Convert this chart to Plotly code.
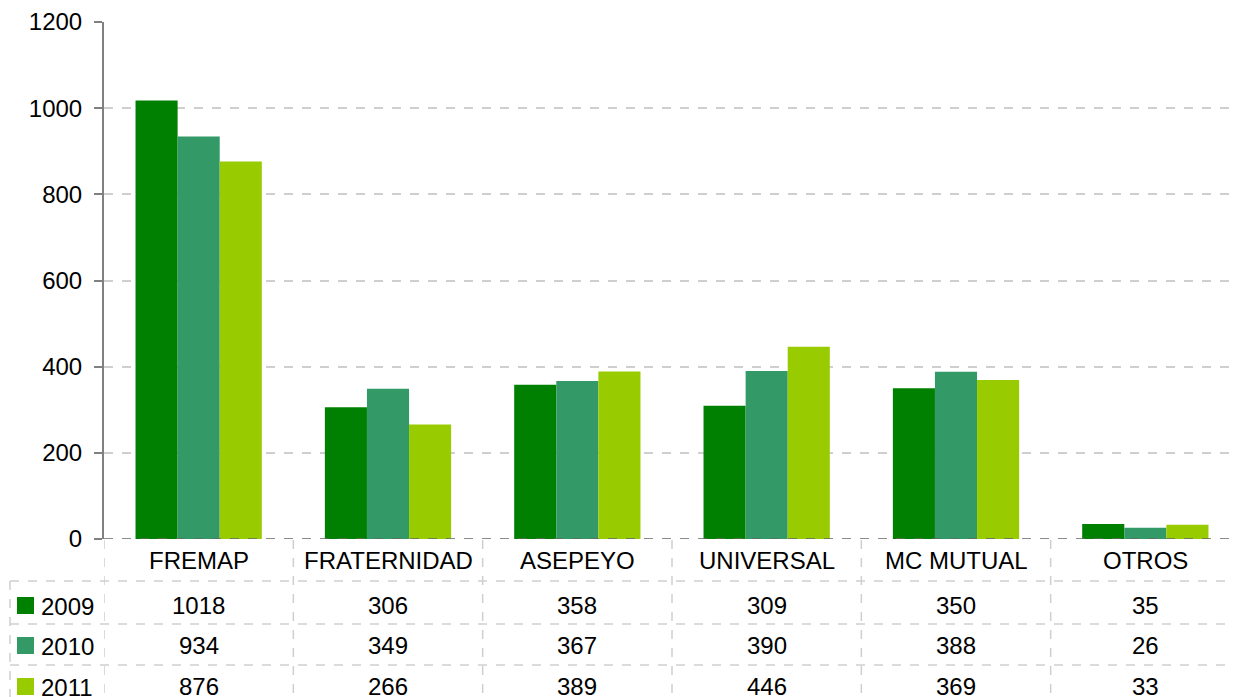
import plotly.graph_objects as go

categories = ["FREMAP", "FRATERNIDAD", "ASEPEYO", "UNIVERSAL", "MC MUTUAL", "OTROS"]
years = ["2009", "2010", "2011"]
v2009 = [1018, 306, 358, 309, 350, 35]
v2010 = [934, 349, 367, 390, 388, 26]
v2011 = [876, 266, 389, 446, 369, 33]
series = [v2009, v2010, v2011]
colors = ["#008000", "#339966", "#99CC00"]
y_ticks = [0, 200, 400, 600, 800, 1000, 1200]

OFF = 8  # page body margin
W, H = 1241 - OFF, 697 - OFF
# screen-space plot area
SX0, SX1, SY0, SY1 = 104, 1240, 22, 539
L, R, T, B = SX0 - OFF, (W + OFF) - SX1, SY0 - OFF, (H + OFF) - SY1
PW = W - L - R
PH = H - T - B
FONT = "Liberation Sans, Arial, sans-serif"
FS = 24

def px_x(px):
    return (px - SX0) / PW

def px_y(py):
    return (SY1 - py) / PH

fig = go.Figure()
for name, vals, c in zip(years, series, colors):
    fig.add_trace(go.Bar(name=name, x=list(range(len(categories))), y=vals,
                         marker=dict(color=c, line=dict(width=0)), showlegend=False))

shapes = []
ann = []
grid_c = "#cfcfcf"
shapes.append(dict(type="line", xref="x", yref="y", x0=-0.5, x1=len(categories) - 0.5, y0=0, y1=0,
                   line=dict(color="#666666", width=1.5, dash="dash"), layer="above"))
for i in range(len(categories) + 1):
    shapes.append(dict(type="line", xref="x", yref="paper", x0=i - 0.5, x1=i - 0.5,
                       y0=px_y(540), y1=px_y(710), line=dict(color=grid_c, width=1.5, dash="dash")))
shapes.append(dict(type="line", xref="paper", yref="paper", x0=px_x(10), x1=px_x(10),
                   y0=px_y(581), y1=px_y(710), line=dict(color=grid_c, width=1.5, dash="dash")))
for py in [581, 624, 665]:
    shapes.append(dict(type="line", xref="paper", yref="paper", x0=px_x(10), x1=1,
                       y0=px_y(py), y1=px_y(py), line=dict(color=grid_c, width=1.5, dash="dash")))

for i, c in enumerate(categories):
    ann.append(dict(x=i, y=px_y(560), xref="x", yref="paper", text=c, showarrow=False,
                    font=dict(family=FONT, size=FS, color="black"), xanchor="center", yanchor="middle"))

row_centers = [605, 645, 686]
for r, (name, vals, col) in enumerate(zip(years, series, colors)):
    cy = row_centers[r]
    shapes.append(dict(type="rect", xref="paper", yref="paper", x0=px_x(17), x1=px_x(34),
                       y0=px_y(cy - 8), y1=px_y(cy + 9), fillcolor=col, line=dict(width=0)))
    ann.append(dict(x=px_x(39), y=px_y(cy + 1), xref="paper", yref="paper", text=name, showarrow=False,
                    font=dict(family=FONT, size=FS, color="black"), xanchor="left", yanchor="middle"))
    for i, v in enumerate(vals):
        ann.append(dict(x=i, y=px_y(cy), xref="x", yref="paper", text=str(v), showarrow=False,
                        font=dict(family=FONT, size=FS, color="black"), xanchor="center", yanchor="middle"))

fig.update_layout(
    width=W, height=H,
    margin=dict(l=L, r=R, t=T, b=B),
    paper_bgcolor="white", plot_bgcolor="white",
    barmode="group", bargap=0.333, bargroupgap=0,
    shapes=shapes, annotations=ann,
    font=dict(family=FONT, size=FS, color="black"),
    xaxis=dict(range=[-0.5, len(categories) - 0.5], showticklabels=False, showgrid=False,
               zeroline=False, showline=False, ticks=""),
    yaxis=dict(range=[0, 1200], tickvals=y_ticks, showgrid=True, gridcolor=grid_c, griddash="dash",
               gridwidth=1.5, zeroline=False, showline=True, linecolor="#808080", linewidth=2,
               ticks="outside", ticklen=8, tickcolor="#808080", tickwidth=2,
               tickfont=dict(family=FONT, size=FS, color="black"), ticklabelstandoff=7),
)

fig.write_html("out.html")
